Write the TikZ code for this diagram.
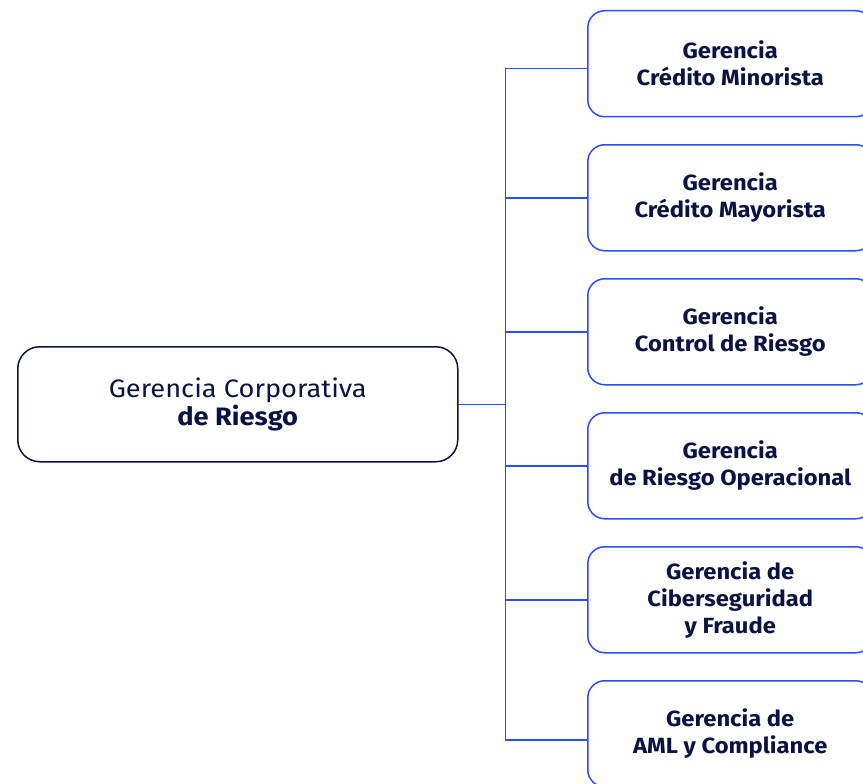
\documentclass[tikz,border=0pt]{standalone}
\usepackage{fontspec}
\setmainfont{Fira Sans}[FakeStretch=1.08]
\definecolor{navy}{HTML}{0B1342}
\definecolor{azul}{HTML}{2A4DF7}

\begin{document}
\begin{tikzpicture}[x=1pt,y=-1pt,
    principal/.style={draw=navy,line width=1.5pt,rounded corners=22pt,minimum width=440pt,minimum height=115pt,
      align=center,text=navy,font=\fontsize{25.2}{27.5}\selectfont,anchor=north west},
    gerencia/.style={draw=azul,line width=1.5pt,rounded corners=17pt,minimum width=285pt,minimum height=106pt,
      align=center,text=navy,font=\fontsize{22}{27}\selectfont\bfseries,anchor=north west},
    link/.style={azul,line width=1.5pt}]
  \useasboundingbox (0,0) rectangle (863,784);
  \clip (0,0) rectangle (863,784);
  \node[principal] (main) at (17,346) {Gerencia Corporativa\\\textbf{de Riesgo}};
  \node[gerencia] (b1) at (587,10) {Gerencia\\Crédito Minorista};
  \node[gerencia] (b2) at (587,144) {Gerencia\\Crédito Mayorista};
  \node[gerencia] (b3) at (587,278) {Gerencia\\Control de Riesgo};
  \node[gerencia] (b4) at (587,412) {Gerencia\\de Riesgo Operacional};
  \node[gerencia] (b5) at (587,546) {Gerencia de\\Ciberseguridad\\y Fraude};
  \node[gerencia] (b6) at (587,680) {Gerencia de\\AML y Compliance};
  \coordinate (bus) at ([xshift=47pt]main.east);
  \draw[link] (main.east) -- (bus);
  \draw[link] ([yshift=-5pt]b1.west) -| (bus);
  \draw[link] ([yshift=-6pt]b6.west) -| (bus);
  \draw[link] (b2.west) -| (bus);
  \draw[link] (b3.west) -| (bus);
  \draw[link] (b4.west) -| (bus);
  \draw[link] (b5.west) -| (bus);
\end{tikzpicture}
\end{document}
